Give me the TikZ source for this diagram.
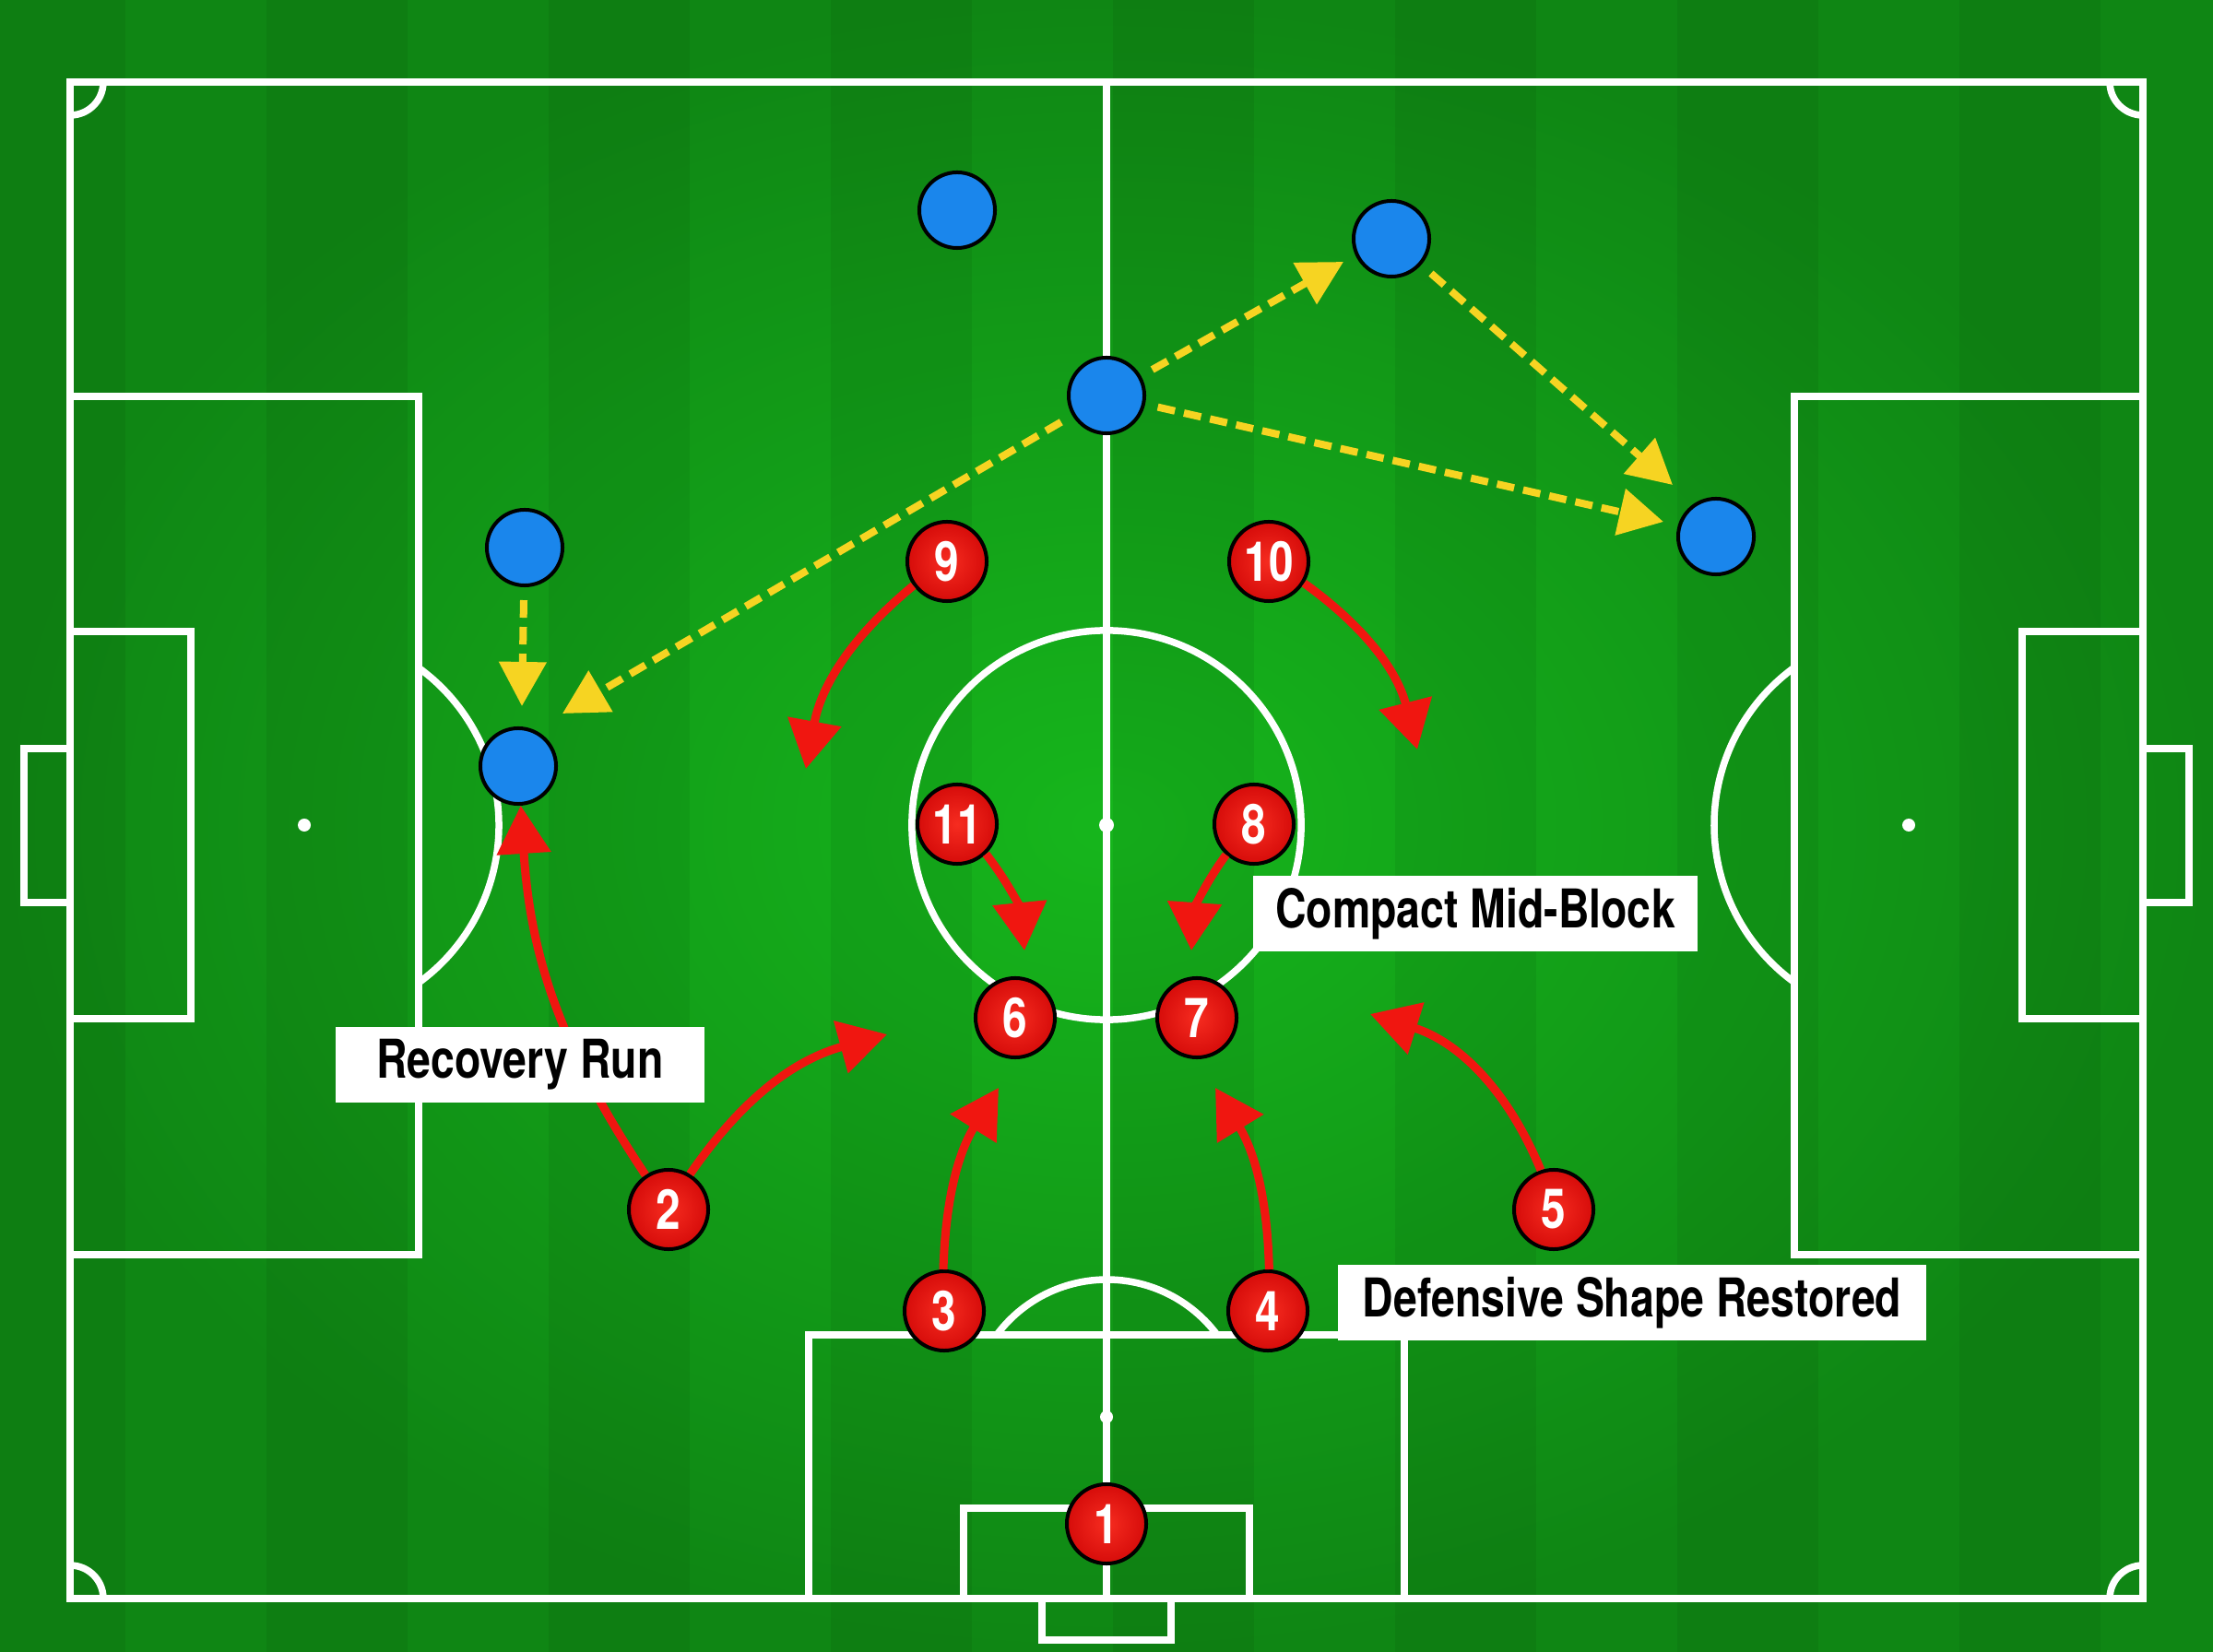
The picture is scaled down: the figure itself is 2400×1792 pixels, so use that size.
\documentclass[tikz,border=0pt]{standalone}
\usepackage{fontspec}
\newfontfamily\boardfont[FakeStretch=0.8]{TeX Gyre Heros}
\usetikzlibrary{arrows.meta}

\definecolor{grass_dark}{RGB}{15,134,20}
\definecolor{grass_light}{RGB}{22,182,28}
\definecolor{player_red}{RGB}{214,12,10}
\definecolor{player_red_light}{RGB}{246,44,32}
\definecolor{opp_blue}{RGB}{26,134,236}
\definecolor{pass_yellow}{RGB}{246,212,34}
\definecolor{run_red}{RGB}{240,22,16}

\begin{document}
\begin{tikzpicture}[x=0.01cm,y=-0.01cm]
\tikzstyle{pitch_line}=[white,line width=0.075cm]
\tikzstyle{red_player}=[circle,draw=black,line width=0.04cm,inner color=player_red_light,outer color=player_red,minimum size=0.86cm,inner sep=0pt,text=white,font=\boardfont\bfseries\fontsize{17}{17}\selectfont]
\tikzstyle{blue_player}=[circle,draw=black,line width=0.04cm,fill=opp_blue,minimum size=0.82cm,inner sep=0pt]
\tikzstyle{pass}=[pass_yellow,line width=0.08cm,dash pattern=on 0.19cm off 0.1cm,-{Triangle[length=0.48cm,width=0.5cm]},shorten <=0.14cm]
\tikzstyle{run}=[run_red,line width=0.09cm,-{Triangle[length=0.52cm,width=0.57cm]}]
\tikzstyle{label_box}=[fill=white,inner sep=0pt,minimum height=0.81cm,text=black,font=\boardfont\bfseries\fontsize{16.5}{18}\selectfont]

\useasboundingbox (0,0) rectangle (2400,1792);
\shade[inner color=grass_light,outer color=grass_dark] (0,0) rectangle (2400,1792);
\foreach \k in {0,2,...,14}
  \fill[black,opacity=0.06] ({-17+153*\k},0) rectangle ({136+153*\k},1792);

% pitch
\draw[pitch_line] (76,89) rectangle (2324,1734);
\draw[pitch_line] (1200,89) -- (1200,1734);
\draw[pitch_line] (1200,895) circle[radius=2.11cm];
\fill[white] (1200,895) circle[radius=0.08cm];
\draw[pitch_line] (76,430) rectangle (454,1361);
\draw[pitch_line] (76,685) rectangle (207,1105);
\draw[pitch_line] (26,812) rectangle (76,979);
\fill[white] (330,895) circle[radius=0.07cm];
\draw[pitch_line] (454,1066) arc[start angle=-54,end angle=54,radius=2.11cm];
\draw[pitch_line] (1946,430) rectangle (2324,1361);
\draw[pitch_line] (2193,685) rectangle (2324,1105);
\draw[pitch_line] (2324,812) rectangle (2374,979);
\fill[white] (2070,895) circle[radius=0.07cm];
\draw[pitch_line] (1946,724) arc[start angle=126,end angle=234,radius=2.11cm];
\draw[pitch_line] (877,1448) rectangle (1523,1734);
\draw[pitch_line] (1045,1636) rectangle (1355,1734);
\draw[pitch_line] (1130,1734) rectangle (1270,1779);
\fill[white] (1200,1537) circle[radius=0.07cm];
\draw[pitch_line] (1320,1448) arc[start angle=36.7,end angle=143.3,radius=1.49cm];
\draw[pitch_line] (112,89) arc[start angle=0,end angle=-90,radius=0.36cm];
\draw[pitch_line] (2288,89) arc[start angle=180,end angle=270,radius=0.36cm];
\draw[pitch_line] (112,1734) arc[start angle=0,end angle=90,radius=0.36cm];
\draw[pitch_line] (2288,1734) arc[start angle=180,end angle=90,radius=0.36cm];

% players
\node[red_player] (p1) at (1200,1653) {1};
\node[red_player] (p2) at (725,1312) {2};
\node[red_player] (p3) at (1024,1422) {3};
\node[red_player] (p4) at (1375,1422) {4};
\node[red_player] (p5) at (1685,1312) {5};
\node[red_player] (p6) at (1101,1104) {6};
\node[red_player] (p7) at (1298,1104) {7};
\node[red_player] (p8) at (1360,894) {8};
\node[red_player] (p9) at (1027,609) {9};
\node[red_player] (p10) at (1376,609) {10};
\node[red_player] (p11) at (1038,894) {11};

\node[blue_player] (opp1) at (1038,228) {};
\node[blue_player] (opp2) at (1509,259) {};
\node[blue_player] (opp3) at (1200,429) {};
\node[blue_player] (opp4) at (1861,582) {};
\node[blue_player] (opp5) at (569,594) {};
\node[blue_player] (opp6) at (562,831) {};

\coordinate (pass_b6_end) at (610,774);
\coordinate (pass_b2_end) at (1457,284);
\coordinate (pass_b4_end) at (1814,526);
\coordinate (pass_long_end) at (1804,566);
\coordinate (pass_drop_end) at (566,766);

\coordinate (run2_end) at (962,1122);
\coordinate (run3_end) at (1083,1180);
\coordinate (run4_end) at (1318,1180);
\coordinate (run5_end) at (1486,1100);
\coordinate (run9_end) at (874,834);
\coordinate (run10_end) at (1537,813);
\coordinate (run11_end) at (1111,1031);
\coordinate (run8_end) at (1292,1031);

\draw[pass] (opp3) -- (pass_b6_end);
\draw[pass] (opp3) -- (pass_b2_end);
\draw[pass] (opp2) -- (pass_b4_end);
\draw[pass] (opp3) -- (pass_long_end);
\draw[pass] (opp5) -- (pass_drop_end);

\draw[run] (p2) to[bend left=15] (opp6);
\draw[run] (p2) to[bend left=20] (run2_end);
\draw[run] (p3) to[bend left=15] (run3_end);
\draw[run] (p4) to[bend right=15] (run4_end);
\draw[run] (p5) to[bend right=25] (run5_end);
\draw[run] (p9) to[bend right=20] (run9_end);
\draw[run] (p10) to[bend left=20] (run10_end);
\draw[run] (p11) to[bend left=16] (run11_end);
\draw[run] (p8) to[bend right=16] (run8_end);

\node[label_box,minimum width=4cm] (recovery_label) at (564,1155) {Recovery Run};
\node[label_box,minimum width=4.81cm] (compact_label) at (1600,991) {Compact Mid-Block};
\node[label_box,minimum width=6.38cm] (shape_label) at (1770,1413) {Defensive Shape Restored};
\end{tikzpicture}
\end{document}
